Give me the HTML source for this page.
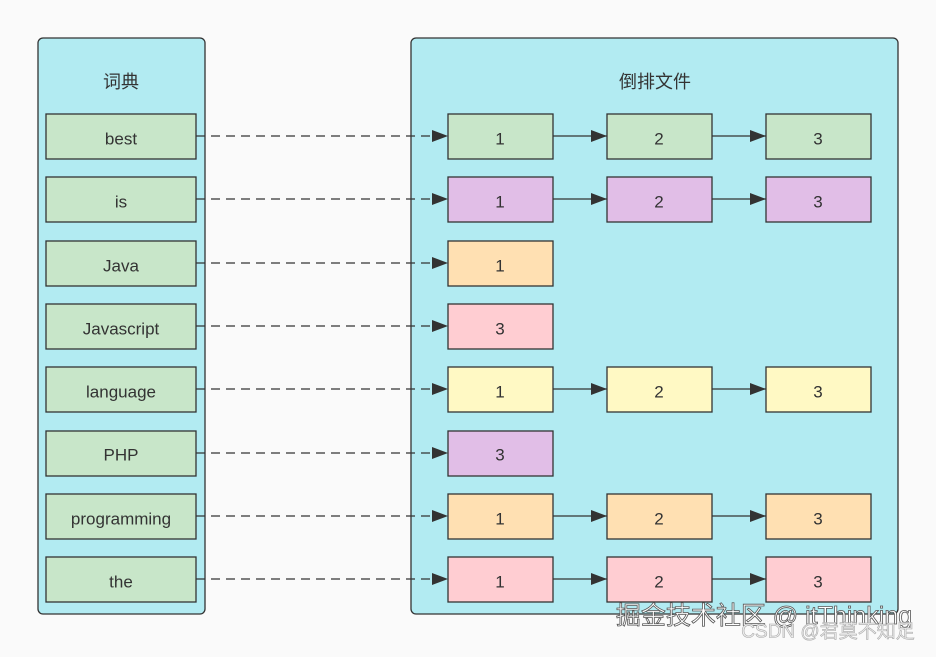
<!DOCTYPE html>
<html><head><meta charset="utf-8"><style>
body{margin:0;background:#fafafa;}
text{font-family:"Liberation Sans","Noto Sans CJK SC",sans-serif;fill:#333;font-size:17px;text-anchor:middle;dominant-baseline:central;}
</style></head><body>
<svg width="936" height="652" xmlns="http://www.w3.org/2000/svg">
<defs><marker id="a" markerWidth="16" markerHeight="12" refX="16" refY="6" orient="auto" markerUnits="userSpaceOnUse"><path d="M0,0L16,6L0,12z" fill="#333"/></marker></defs>
<rect x="38" y="38" width="167" height="576" rx="5" fill="#b2ebf2" stroke="#333" stroke-width="1.3"/>
<rect x="411" y="38" width="487" height="576" rx="5" fill="#b2ebf2" stroke="#333" stroke-width="1.3"/>
<text x="121" y="82" style="font-size:18px">词典</text>
<text x="655" y="82" style="font-size:18px">倒排文件</text>
<g stroke="#333" stroke-width="1.3">
<rect x="46" y="114" width="150" height="45" fill="#c8e6c9"/>
<rect x="46" y="177" width="150" height="45" fill="#c8e6c9"/>
<rect x="46" y="241" width="150" height="45" fill="#c8e6c9"/>
<rect x="46" y="304" width="150" height="45" fill="#c8e6c9"/>
<rect x="46" y="367" width="150" height="45" fill="#c8e6c9"/>
<rect x="46" y="431" width="150" height="45" fill="#c8e6c9"/>
<rect x="46" y="494" width="150" height="45" fill="#c8e6c9"/>
<rect x="46" y="557" width="150" height="45" fill="#c8e6c9"/>
<g stroke-dasharray="9,6" fill="none" marker-end="url(#a)">
<path d="M196 136H448"/><path d="M196 199H448"/><path d="M196 263H448"/><path d="M196 326H448"/>
<path d="M196 389H448"/><path d="M196 453H448"/><path d="M196 516H448"/><path d="M196 579H448"/>
</g>
<g fill="none" marker-end="url(#a)">
<path d="M553 136H607"/><path d="M712 136H766"/>
<path d="M553 199H607"/><path d="M712 199H766"/>
<path d="M553 389H607"/><path d="M712 389H766"/>
<path d="M553 516H607"/><path d="M712 516H766"/>
<path d="M553 579H607"/><path d="M712 579H766"/>
</g>
<rect x="448" y="114" width="105" height="45" fill="#c8e6c9"/><rect x="607" y="114" width="105" height="45" fill="#c8e6c9"/><rect x="766" y="114" width="105" height="45" fill="#c8e6c9"/>
<rect x="448" y="177" width="105" height="45" fill="#e1bee7"/><rect x="607" y="177" width="105" height="45" fill="#e1bee7"/><rect x="766" y="177" width="105" height="45" fill="#e1bee7"/>
<rect x="448" y="241" width="105" height="45" fill="#ffe0b2"/>
<rect x="448" y="304" width="105" height="45" fill="#ffcdd2"/>
<rect x="448" y="367" width="105" height="45" fill="#fff9c4"/><rect x="607" y="367" width="105" height="45" fill="#fff9c4"/><rect x="766" y="367" width="105" height="45" fill="#fff9c4"/>
<rect x="448" y="431" width="105" height="45" fill="#e1bee7"/>
<rect x="448" y="494" width="105" height="45" fill="#ffe0b2"/><rect x="607" y="494" width="105" height="45" fill="#ffe0b2"/><rect x="766" y="494" width="105" height="45" fill="#ffe0b2"/>
<rect x="448" y="557" width="105" height="45" fill="#ffcdd2"/><rect x="607" y="557" width="105" height="45" fill="#ffcdd2"/><rect x="766" y="557" width="105" height="45" fill="#ffcdd2"/>
</g>
<g style="font-size:18px">
<text x="121" y="139">best</text><text x="121" y="202">is</text><text x="121" y="266">Java</text><text x="121" y="329">Javascript</text>
<text x="121" y="392">language</text><text x="121" y="455">PHP</text><text x="121" y="519">programming</text><text x="121" y="582">the</text>
</g>
<g>
<text x="500" y="139">1</text><text x="659" y="139">2</text><text x="818" y="139">3</text>
<text x="500" y="202">1</text><text x="659" y="202">2</text><text x="818" y="202">3</text>
<text x="500" y="266">1</text>
<text x="500" y="329">3</text>
<text x="500" y="392">1</text><text x="659" y="392">2</text><text x="818" y="392">3</text>
<text x="500" y="455">3</text>
<text x="500" y="519">1</text><text x="659" y="519">2</text><text x="818" y="519">3</text>
<text x="500" y="582">1</text><text x="659" y="582">2</text><text x="818" y="582">3</text>
</g>
<text x="764" y="616" style="font-size:25px;fill:#fff;stroke:#555;stroke-width:0.8">掘金技术社区 @ itThinking</text>
<text x="828" y="632" style="font-size:19px;fill:#eee;stroke:#aaa;stroke-width:0.6">CSDN @君莫不知足</text>
</svg>
</body></html>
